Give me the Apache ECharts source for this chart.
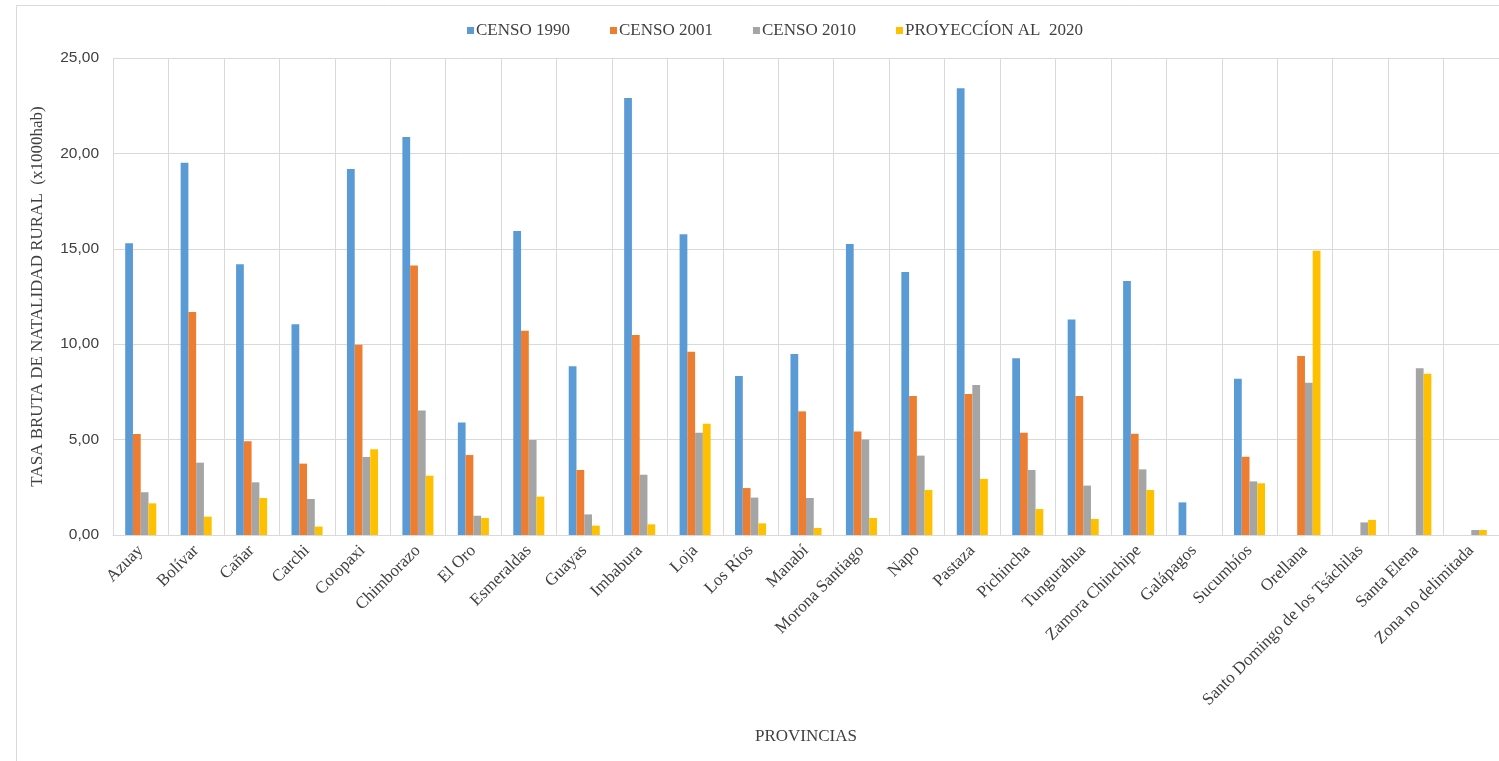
<!DOCTYPE html>
<html>
<head>
<meta charset="utf-8">
<script src="https://cdn.jsdelivr.net/npm/echarts@6/dist/echarts.min.js"></script>
<style>
html,body{margin:0;padding:0;background:#fff;}
#chart{width:1499px;height:761px;}
</style>
</head>
<body>
<div id="chart"></div>
<script>
const categories = ['Azuay','Bolívar','Cañar','Carchi','Cotopaxi','Chimborazo','El Oro','Esmeraldas','Guayas','Imbabura','Loja','Los Ríos','Manabí','Morona Santiago','Napo','Pastaza','Pichincha','Tungurahua','Zamora Chinchipe','Galápagos','Sucumbíos','Orellana','Santo Domingo de los Tsáchilas','Santa Elena','Zona no delimitada'];
const seriesNames = ['CENSO 1990','CENSO 2001','CENSO 2010','PROYECCÍON AL  2020'];
const censo1990 = [15.29,19.51,14.19,11.04,19.18,20.86,5.89,15.93,8.84,22.90,15.76,8.33,9.49,15.25,13.78,23.41,9.26,11.29,13.31,1.71,8.19,0,0,0,0];
const censo2001 = [5.29,11.69,4.91,3.74,9.97,14.13,4.19,10.71,3.41,10.48,9.61,2.46,6.48,5.43,7.29,7.39,5.36,7.29,5.31,0,4.10,9.38,0,0,0];
const censo2010 = [2.24,3.79,2.76,1.89,4.09,6.53,1.01,4.98,1.08,3.16,5.36,1.96,1.94,5.01,4.16,7.86,3.41,2.59,3.44,0,2.81,7.98,0.66,8.74,0.26];
const proy2020 = [1.66,0.96,1.94,0.44,4.49,3.11,0.89,2.01,0.49,0.56,5.83,0.61,0.37,0.89,2.36,2.94,1.36,0.84,2.36,0,2.71,14.90,0.79,8.45,0.26];
const yTicks = { min: 0, max: 25, interval: 5 };
const colors = ['#5B9BD5','#ED7D31','#A5A5A5','#FFC000'];

const serif = '"Liberation Serif", "DejaVu Serif", serif';
const sans = '"Liberation Sans", "Noto Sans", sans-serif';

const chart = echarts.init(document.getElementById('chart'), null, {renderer:'canvas'});
const allData = [censo1990, censo2001, censo2010, proy2020];
chart.setOption({
  animation: false,
  color: colors,
  graphic: [{
    type: 'rect', left: 14, top: 3, silent: true, z: -1,
    shape: { width: 1600, height: 800 },
    style: { fill: 'none', stroke: '#D9D9D9', lineWidth: 1 }
  }],
  legend: {
    top: 17, left: 462,
    icon: 'rect', itemWidth: 7, itemHeight: 7, itemGap: 40,
    textStyle: { fontFamily: serif, fontSize: 17, color: '#404040', padding: [0,0,0,-3] },
    data: seriesNames
  },
  grid: { left: 113, right: 0, top: 58, bottom: 226, containLabel: false },
  xAxis: {
    type: 'category',
    data: categories,
    name: 'PROVINCIAS',
    nameLocation: 'middle',
    nameGap: 193,
    nameTextStyle: { fontFamily: serif, fontSize: 17, color: '#404040' },
    axisLine: { show: true, lineStyle: { color: '#D9D9D9' } },
    axisTick: { show: false },
    splitLine: { show: true, lineStyle: { color: '#D9D9D9' } },
    axisLabel: { rotate: 45, interval: 0, fontFamily: serif, fontSize: 17, color: '#404040', margin: 13 }
  },
  yAxis: {
    type: 'value',
    min: yTicks.min, max: yTicks.max, interval: yTicks.interval,
    name: 'TASA BRUTA DE NATALIDAD RURAL  (x1000hab)',
    nameLocation: 'middle',
    nameGap: 67,
    nameTextStyle: { fontFamily: serif, fontSize: 17, color: '#404040' },
    axisLine: { show: false },
    axisTick: { show: false },
    splitLine: { show: true, lineStyle: { color: '#D9D9D9' } },
    axisLabel: {
      fontFamily: sans, fontSize: 15.5, color: '#404040', margin: 14,
      formatter: v => v.toFixed(2).replace('.', ',')
    }
  },
  series: seriesNames.map((n, i) => ({
    name: n,
    type: 'bar',
    data: allData[i],
    barGap: '0%',
    barCategoryGap: '44%',
    itemStyle: { color: colors[i] }
  }))
});
</script>
</body>
</html>
